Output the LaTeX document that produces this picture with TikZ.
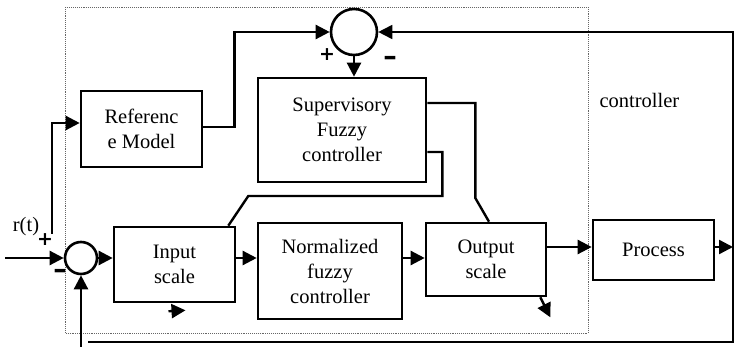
\documentclass[tikz,border=0pt]{standalone}
\usepackage{fontspec}
\setmainfont{Liberation Serif}
\newfontfamily\signfont{DejaVu Sans}
\usetikzlibrary{arrows.meta}
\begin{document}
\begin{tikzpicture}[x=1pt,y=-1pt,line width=2.4pt,>={Triangle[length=14pt,width=14pt]},
  font=\fontsize{20.5}{25}\selectfont]
% supervisory fuzzy control loop
\tikzstyle{block} = [rectangle, draw=black, line width=2.6pt, align=center, inner sep=2pt]
\tikzstyle{summer} = [circle, draw=black, line width=2.6pt, inner sep=0pt]
\tikzstyle{sign} = [font=\fontsize{19}{19}\signfont\bfseries\selectfont, inner sep=0pt]
\tikzstyle{minus} = [font=\fontsize{27}{27}\signfont\bfseries\selectfont, inner sep=0pt]
\useasboundingbox (0,0) rectangle (738,347);
\draw [densely dotted, line width=0.9pt, black!60] (65,7) rectangle (588,333);
\node (ctrl) [anchor=west] at (595,100) {controller};
\node (sum1) [summer, minimum size=46pt] at (354,32) {};
\node (sum2) [summer, minimum size=32pt] at (81,258) {};
\node (ref) [block, minimum width=121pt, minimum height=76pt] at (141.5,129) {Referenc\\e Model};
\node (sup) [block, minimum width=168pt, minimum height=104pt] at (342,130) {Supervisory\\Fuzzy\\controller};
\node (inp) [block, minimum width=121pt, minimum height=75pt] at (174.5,264.5) {Input\\scale};
\node (norm) [block, minimum width=144pt, minimum height=96pt] at (330,271) {Normalized\\fuzzy\\controller};
\node (out) [block, minimum width=120pt, minimum height=73pt] at (486,259.5) {Output\\scale};
\node (proc) [block, minimum width=121pt, minimum height=60pt] at (653.5,250) {Process};
\node (pa) [sign] at (327,55) {+};
\node (ma) [minus] at (390,61) {–};
\node (pb) [sign] at (45,240) {+};
\node (mb) [minus] at (60,274) {–};
\node (rt) at (26,227) {r(t)};
\coordinate (rin) at (5,258);
\coordinate (tap) at (52,234);
\coordinate (fbin) at (81,347);
\coordinate (fbr) at (733,32);
\coordinate (fbb) at (733,342);
\coordinate (fbl) at (88,342);
\coordinate (yp) at (0,247);
\draw [->] (rin) -- (sum2.west);
\draw [->] (tap) |- ([yshift=6pt]ref.west);
\draw [->] ([yshift=2pt]ref.east) -- ++(31,0) |- (sum1.west);
\draw [->] (sum1.south) -- (sum1.south |- sup.north);
\draw [->, line width=1.7pt] (fbl) -- (fbb) -- (fbr) -- (sum1.east);
\draw [->] (fbin) -- (sum2.south);
\draw [->] (sum2.east) -- (sum2.east -| inp.west);
\draw [->] (sum2 -| inp.east) -- (sum2 -| norm.west);
\draw [->] (sum2 -| norm.east) -- (sum2 -| out.west);
\draw [->] (yp -| out.east) -- (yp -| proc.west);
\draw [->] (yp -| proc.east) -- (yp -| fbr);
\draw ([yshift=27pt]sup.east) -- ++(48,0) -- ++(0,95) -- ([xshift=3pt]out.north);
\draw ([yshift=-22pt]sup.east) -- ++(15,0) -- ++(0,44) -- ++(-194,0) -- ([xshift=-8pt]inp.north east);
\draw [->] ([shift={(-6pt,-8pt)}]inp.south) -- ++(17,-1);
\draw [->] ([xshift=-7pt]out.south east) -- ++(10,20);
\end{tikzpicture}
\end{document}
